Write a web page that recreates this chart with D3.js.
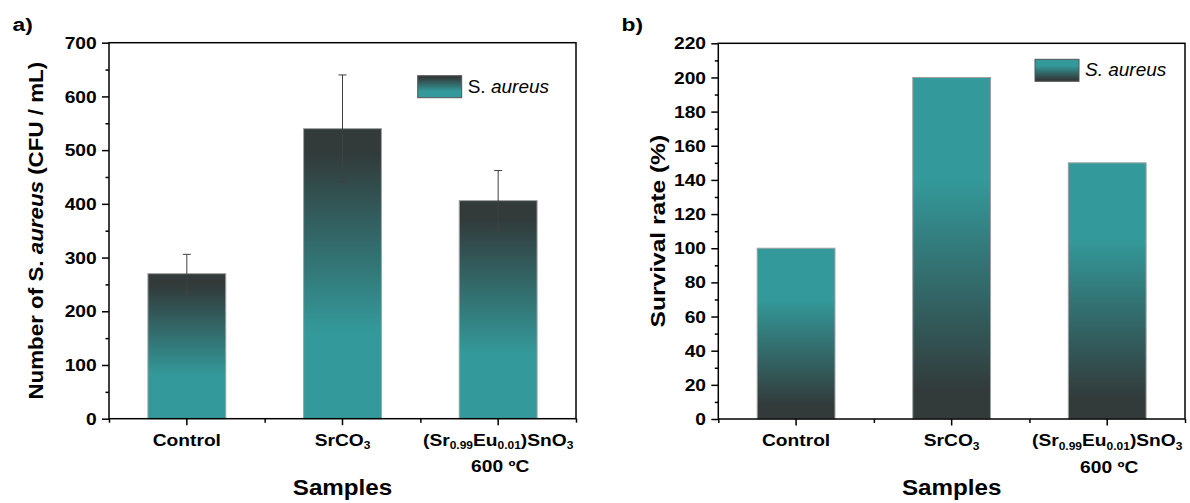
<!DOCTYPE html>
<html>
<head>
<meta charset="utf-8">
<script src="https://cdn.jsdelivr.net/npm/d3@7"></script>
<style>
  body { margin: 0; background: #fff; }
  svg { display: block; }
</style>
</head>
<body>
<script>
// categories + values
const samples = ["Control", "SrCO3", "(Sr0.99Eu0.01)SnO3"];
const sampleLabelParts = [
  [["Control", false]],
  [["SrCO", false], ["3", true]],
  [["(Sr", false], ["0.99", true], ["Eu", false], ["0.01", true], [")SnO", false], ["3", true]],
];
const sampleSecondLine = ["", "", "600 ºC"];

// a) bacteria count
const cfuMean = [270, 540, 406];
const cfuError = [36, 100, 56];
const cfuTicks = [0, 100, 200, 300, 400, 500, 600, 700];
const cfuMinorTicks = [50, 150, 250, 350, 450, 550, 650];

// b) survival rate
const survivalRate = [100, 200, 150];
const rateTicks = [0, 20, 40, 60, 80, 100, 120, 140, 160, 180, 200, 220];
const rateMinorTicks = [10, 30, 50, 70, 90, 110, 130, 150, 170, 190, 210];

const FONT = "'Liberation Sans', Arial, Helvetica, sans-serif",
  DARK = "#323a3a",
  TEAL = "#34999a",
  SX = 1.2; // bold text in the figure is wider than Arial

const width = 1190, height = 503;

let svg = d3.select("body")
  .append("svg")
  .attr("width", width)
  .attr("height", height);

// gradients: a) dark on top, b) teal on top
let defs = svg.append("defs");
let gradDown = defs.append("linearGradient")
  .attr("id", "gradDown")
  .attr("x1", 0).attr("y1", 0).attr("x2", 0).attr("y2", 1);
[[0, DARK], [0.08, DARK], [0.7, TEAL], [1, TEAL]].forEach(s => {
  gradDown.append("stop").attr("offset", s[0]).attr("stop-color", s[1]);
});
let gradUp = defs.append("linearGradient")
  .attr("id", "gradUp")
  .attr("x1", 0).attr("y1", 0).attr("x2", 0).attr("y2", 1);
[[0, TEAL], [0.3, TEAL], [0.92, DARK], [1, DARK]].forEach(s => {
  gradUp.append("stop").attr("offset", s[0]).attr("stop-color", s[1]);
});

let drawPanel = (p) => {
  let g = svg.append("g");

  let x = d3.scaleBand()
    .domain(samples)
    .range([p.left, p.right])
    .paddingInner(0.5)
    .paddingOuter(0.25);
  let xEdge = d3.scaleLinear()
    .domain([0, samples.length])
    .range([p.left, p.right]);
  let y = d3.scaleLinear()
    .domain([0, p.max])
    .range([p.bottom, p.top]);

  // bars
  g.selectAll("rect.bar")
    .data(p.values)
    .join("rect")
    .attr("class", "bar")
    .attr("x", (d, i) => x(samples[i]))
    .attr("width", x.bandwidth())
    .attr("y", d => y(d))
    .attr("height", d => y(0) - y(d))
    .attr("fill", "url(#" + p.grad + ")")
    .attr("stroke", "#a0a0a0")
    .attr("stroke-width", 1);

  // error bars
  if (p.errors) {
    p.values.forEach((v, i) => {
      let cx = x(samples[i]) + x.bandwidth() / 2,
        lo = y(v - p.errors[i]),
        hi = y(v + p.errors[i]);
      g.append("line")
        .attr("x1", cx).attr("x2", cx).attr("y1", lo).attr("y2", hi)
        .attr("stroke", "#404040").attr("stroke-width", 1);
      [lo, hi].forEach(yy => {
        g.append("line")
          .attr("x1", cx - 4).attr("x2", cx + 4).attr("y1", yy).attr("y2", yy)
          .attr("stroke", "#404040").attr("stroke-width", 1);
      });
    });
  }

  // minor ticks
  g.append("g")
    .attr("transform", "translate(" + p.left + ",0)")
    .call(d3.axisLeft(y).tickValues(p.minor).tickSize(3.5).tickSizeOuter(0).tickFormat(""))
    .call(s => s.select(".domain").remove())
    .selectAll("line").attr("stroke-width", 1.5);
  g.append("g")
    .attr("transform", "translate(0," + p.bottom + ")")
    .call(d3.axisBottom(xEdge).tickValues([0, 1, 2, 3]).tickSize(4).tickSizeOuter(0).tickFormat(""))
    .call(s => s.select(".domain").remove())
    .selectAll("line").attr("stroke-width", 1.5);

  // Y axis
  let yAxis = g.append("g")
    .attr("transform", "translate(" + p.left + ",0)")
    .call(d3.axisLeft(y).tickValues(p.ticks).tickSize(7).tickSizeOuter(0))
    .attr("font-family", FONT)
    .attr("font-size", 16)
    .attr("font-weight", "bold");
  yAxis.select(".domain").remove();
  yAxis.selectAll("line").attr("stroke-width", 1.5);
  yAxis.selectAll("text")
    .attr("x", -12.3 / SX)
    .attr("dy", "0.35em")
    .attr("fill", "#000")
    .attr("transform", "scale(" + SX + ",1)");

  // X axis
  let xAxis = g.append("g")
    .attr("transform", "translate(0," + p.bottom + ")")
    .call(d3.axisBottom(x).tickSize(6.5).tickSizeOuter(0).tickFormat(""))
    .attr("font-family", FONT)
    .attr("font-weight", "bold");
  xAxis.select(".domain").remove();
  xAxis.selectAll("line").attr("stroke-width", 1.5);
  xAxis.selectAll(".tick").each(function (d, i) {
    let t = d3.select(this).append("text")
      .attr("text-anchor", "middle")
      .attr("fill", "#000")
      .attr("font-size", 16)
      .attr("transform", "translate(0,27) scale(" + SX + ",1)");
    let parts = sampleLabelParts[i], shifted = false;
    parts.forEach(part => {
      let ts = t.append("tspan").text(part[0]);
      if (part[1]) {
        ts.attr("font-size", 10).attr("dy", shifted ? 0 : 3.5);
        shifted = true;
      } else if (shifted) {
        ts.attr("dy", -3.5);
        shifted = false;
      }
    });
    if (sampleSecondLine[i]) {
      d3.select(this).append("text")
        .attr("text-anchor", "middle")
        .attr("fill", "#000")
        .attr("font-size", 16)
        .attr("transform", "translate(2,53.5) scale(" + SX + ",1)")
        .text(sampleSecondLine[i]);
    }
  });

  // frame
  g.append("rect")
    .attr("x", p.left).attr("y", p.top)
    .attr("width", p.right - p.left).attr("height", p.bottom - p.top)
    .attr("fill", "none").attr("stroke", "#000").attr("stroke-width", 1.5);

  // axis titles
  g.append("text")
    .attr("text-anchor", "middle")
    .attr("font-family", FONT).attr("font-weight", "bold").attr("font-size", 22)
    .attr("transform", "translate(" + (p.left + p.right) / 2 + ",495) scale(1.1,1)")
    .text("Samples");

  let yt = g.append("text")
    .attr("text-anchor", "middle")
    .attr("font-family", FONT).attr("font-weight", "bold").attr("font-size", 20.5)
    .attr("transform", "translate(" + p.yTitleX + "," + (p.top + p.bottom) / 2 + ") rotate(-90) scale(" + p.yTitleSX + ",1)");
  p.yTitle.forEach(part => {
    yt.append("tspan").attr("font-style", part[1] ? "italic" : "normal").text(part[0]);
  });

  // panel letter
  g.append("text")
    .attr("font-family", FONT).attr("font-weight", "bold").attr("font-size", 19)
    .attr("transform", "translate(" + p.letterX + ",31) scale(" + SX + ",1)")
    .text(p.letter);

  // legend
  g.append("rect")
    .attr("x", p.legend[0]).attr("y", p.legend[1])
    .attr("width", 44).attr("height", 22)
    .attr("fill", "url(#" + p.grad + ")")
    .attr("stroke", "#555").attr("stroke-width", 1);
  let lt = g.append("text")
    .attr("x", p.legend[0] + 50).attr("y", p.legend[1] + 17)
    .attr("font-family", FONT).attr("font-size", 19);
  p.legendText.forEach(part => {
    lt.append("tspan").attr("font-style", part[1] ? "italic" : "normal").text(part[0]);
  });
};

drawPanel({
  left: 109, right: 576, top: 42.7, bottom: 418.7,
  max: 700, ticks: cfuTicks, minor: cfuMinorTicks,
  values: cfuMean, errors: cfuError, grad: "gradDown",
  yTitle: [["Number of S. ", false], ["aureus", true], [" (CFU / mL)", false]],
  yTitleX: 43, yTitleSX: 1.09, letter: "a)", letterX: 12.5,
  legend: [417.7, 75.7], legendText: [["S. ", false], ["aureus", true]],
});

drawPanel({
  left: 718.3, right: 1185, top: 43.3, bottom: 419,
  max: 220, ticks: rateTicks, minor: rateMinorTicks,
  values: survivalRate, errors: null, grad: "gradUp",
  yTitle: [["Survival rate (%)", false]],
  yTitleX: 665, yTitleSX: 1.2, letter: "b)", letterX: 621.5,
  legend: [1035, 59.3], legendText: [["S. aureus", true]],
});
</script>
</body>
</html>
